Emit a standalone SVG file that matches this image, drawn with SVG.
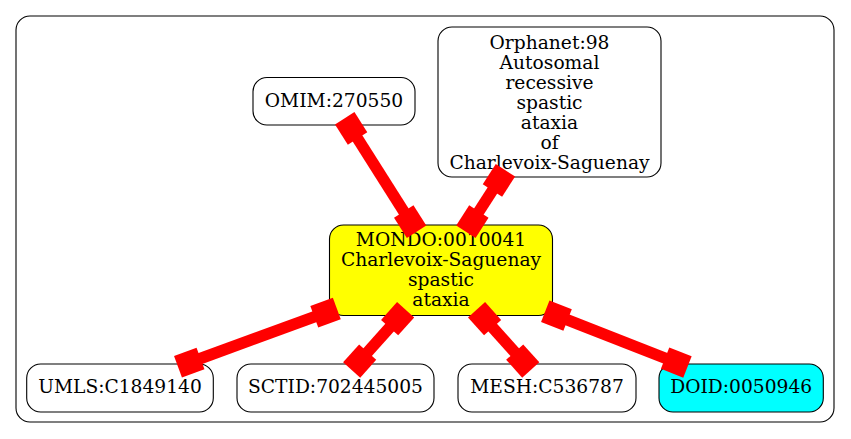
<svg xmlns="http://www.w3.org/2000/svg" width="851" height="439" viewBox="0 0 851 439">
<style>
.n{fill:#fff;stroke:#000;stroke-width:1.1}
.t{font-family:"DejaVu Serif",serif;font-size:18.67px;text-anchor:middle;fill:#000}
.e{stroke:#f00;stroke-width:11.5;fill:none;marker-start:url(#box);marker-end:url(#box)}
</style>
<defs>
<marker id="box" viewBox="-20 -14 30 28" markerWidth="30" markerHeight="28" refX="0" refY="0" orient="auto-start-reverse" markerUnits="userSpaceOnUse">
<rect x="-16" y="-11.5" width="24" height="23" fill="#f00"/>
</marker>
</defs>
<rect x="16" y="16" width="818" height="406" rx="14" fill="#fff" stroke="#000" stroke-width="1.1"/>
<g id="omim">
<rect class="n" x="253" y="77.5" width="162" height="47.5" rx="14"/>
<text class="t" x="334" y="106.7">OMIM:270550</text>
</g>
<g id="orphanet">
<rect class="n" x="438" y="27" width="223" height="150" rx="14"/>
<text class="t" x="549.5" y="48.5">Orphanet:98</text>
<text class="t" x="549.5" y="68.5">Autosomal</text>
<text class="t" x="549.5" y="88.5">recessive</text>
<text class="t" x="549.5" y="108.5">spastic</text>
<text class="t" x="549.5" y="128.5">ataxia</text>
<text class="t" x="549.5" y="148.5">of</text>
<text class="t" x="549.5" y="168.5">Charlevoix-Saguenay</text>
</g>
<g id="mondo">
<rect class="n" x="329.5" y="225" width="223" height="90.5" rx="14" style="fill:#ff0"/>
<text class="t" x="441" y="245.7">MONDO:0010041</text>
<text class="t" x="441" y="265.7">Charlevoix-Saguenay</text>
<text class="t" x="441" y="285.7">spastic</text>
<text class="t" x="441" y="305.7">ataxia</text>
</g>
<g id="umls">
<rect class="n" x="26.7" y="364" width="186.6" height="48" rx="14"/>
<text class="t" x="120" y="392.7">UMLS:C1849140</text>
</g>
<g id="sctid">
<rect class="n" x="237" y="364" width="197" height="48" rx="14"/>
<text class="t" x="335.5" y="392.7">SCTID:702445005</text>
</g>
<g id="mesh">
<rect class="n" x="458" y="364" width="178" height="48" rx="14"/>
<text class="t" x="547" y="392.7">MESH:C536787</text>
</g>
<g id="doid">
<rect class="n" x="659" y="364" width="164.3" height="48" rx="14" style="fill:#0ff"/>
<text class="t" x="741.2" y="392.7">DOID:0050946</text>
</g>
<g id="connectors">
<line class="e" x1="349" y1="125" x2="412.3" y2="225"/>
<line class="e" x1="501.1" y1="177" x2="470.2" y2="225"/>
<line class="e" x1="329.3" y1="311.3" x2="185.5" y2="364"/>
<line class="e" x1="400.3" y1="315.7" x2="357" y2="364"/>
<line class="e" x1="481.9" y1="315.7" x2="525.4" y2="364"/>
<line class="e" x1="552.7" y1="314.1" x2="680" y2="364"/>
</g>
</svg>
